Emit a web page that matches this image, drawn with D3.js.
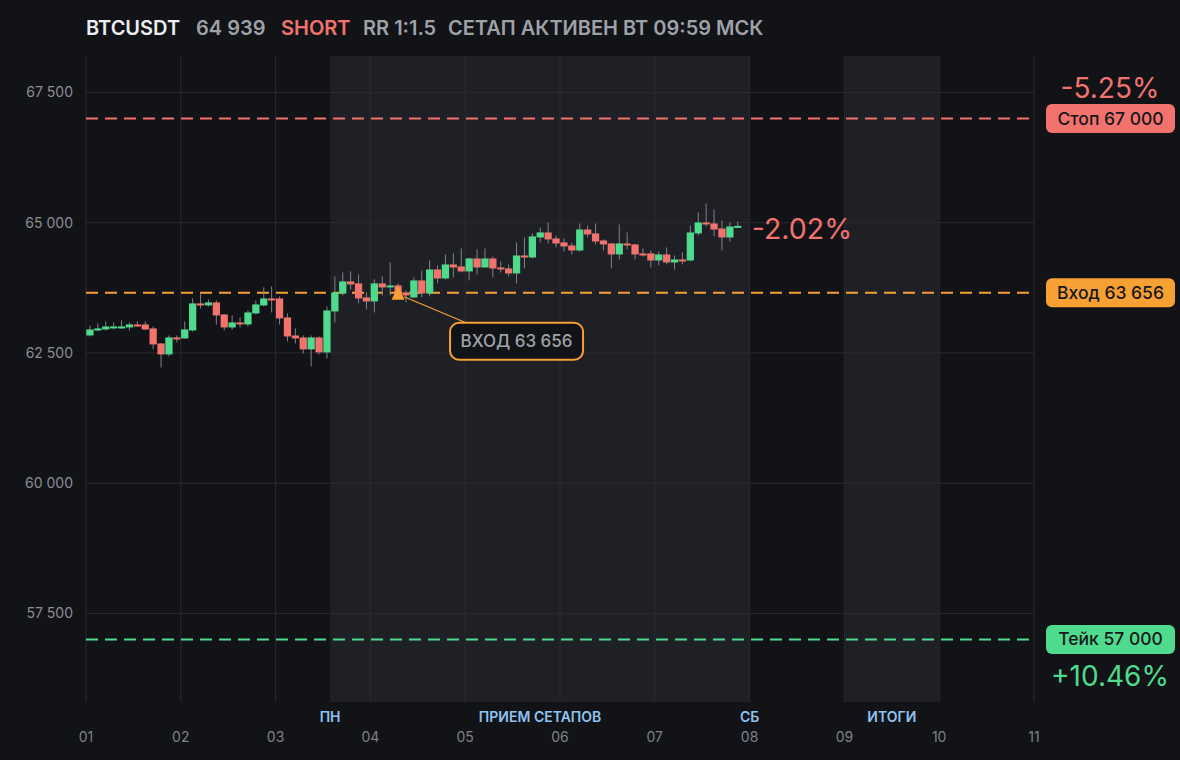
<!DOCTYPE html>
<html>
<head>
    <meta charset="utf-8">
    <script src="https://d3js.org/d3.v7.min.js"></script>
    <style>
        html, body { margin: 0; padding: 0; background: #121317; }
        svg { display: block; }
        text { font-family: Inter, "Noto Sans", sans-serif; }
    </style>
</head>
<body>
<svg id="chart" width="1180" height="760"></svg>
<script>
// ---- data ----
var symbol = "BTCUSDT";
var side = "SHORT";
var rrText = "RR 1:1.5";
var statusText = "СЕТАП АКТИВЕН ВТ 09:59 МСК";

var entryPrice = 63656;
var stopPrice = 67000;
var takePrice = 57000;
var entryCandle = 39;

// 2h candles starting at day 01 00:00
var opens  = [62836,62932,62951,62971,62971,62990,63047,63047,62971,62683,62472,62798,62779,62932,63451,63412,63470,63239,62990,63086,
              63047,63259,63412,63546,63546,63182,62836,62798,62568,62798,62510,63297,63642,63873,63835,63566,63489,63835,63758,63796,
              63661,63566,63892,63642,64103,63930,64199,64160,64065,64314,64141,64314,64141,64122,64026,64371,64333,64717,64813,64698,
              64621,64563,64467,64870,64794,64659,64602,64391,64602,64583,64410,64410,64275,64391,64237,64295,64275,64794,65005,64986,
              64890,64717,64910];
var highs  = [63028,63067,63105,63086,63124,63086,63105,63105,63009,62683,62836,62836,63105,63546,63642,63527,63508,63239,63220,63182,
              63316,63508,63758,63777,63585,63259,62971,62836,62836,62817,63393,63969,64045,64065,64007,63661,63911,63969,64237,63835,
              63700,63949,64084,64275,64180,64391,64410,64506,64333,64487,64506,64352,64256,64199,64621,64717,64794,64909,65005,64755,
              64698,64621,64986,64947,64986,64680,64610,64967,64813,64590,64506,64467,64448,64525,64371,64429,64947,65197,65370,65255,
              65043,65005,65024];
var lows   = [62817,62920,62932,62951,62960,62932,63000,62940,62568,62222,62434,62702,62770,62913,63355,63393,63047,62932,62951,62990,
              63009,63239,63393,63278,63047,62721,62683,62491,62242,62472,62395,63086,63604,63719,63451,63335,63278,63604,63604,63546,
              63470,63546,63566,63585,63835,63911,63949,64045,63892,64007,64141,63949,64045,63969,63835,64122,64314,64621,64602,64525,
              64448,64391,64448,64717,64583,64467,64122,64295,64487,64295,64352,64141,64180,64199,64103,64199,64256,64755,64928,64736,
              64467,64640,64900];
var closes = [62951,62971,63009,63009,63009,63047,63009,62951,62664,62472,62798,62760,62951,63451,63412,63470,63220,62990,63086,63047,
              63278,63431,63546,63508,63163,62817,62779,62568,62798,62510,63316,63661,63873,63815,63546,63489,63835,63758,63796,63661,
              63604,63892,63642,64103,63930,64199,64141,64065,64314,64141,64314,64122,64103,64026,64371,64333,64736,64813,64679,64602,
              64544,64467,64870,64775,64640,64583,64391,64602,64563,64391,64371,64275,64391,64237,64295,64256,64813,65005,64967,64870,
              64717,64928,64939];

var yTicks = [57500, 60000, 62500, 65000, 67500];
var dayTicks = [1, 2, 3, 4, 5, 6, 7, 8, 9, 10, 11];
var dayLabels = ["01", "02", "03", "04", "05", "06", "07", "08", "09", "10", "11"];

var sessionBands = [[3.575, 8], [9, 10]];
var sessionLabels = ["ПН", "ПРИЕМ СЕТАПОВ", "СБ", "ИТОГИ"];
var sessionLabelAt = [3.575, 5.79, 8, 9.5];

// ---- colours ----
var cUp = "#4fdb8d", cDown = "#f2736d", cWick = "#80828a";
var cStop = "#f2736d", cEntry = "#f7a033", cTake = "#4fdb8d";

var svg = d3.select("#chart");
var W = 1180, H = 760;
var plotL = 86, plotR = 1034, plotT = 56, plotB = 702;

var x = d3.scaleLinear().domain([1, 11]).range([plotL, plotR]);
var y = d3.scaleLinear().domain([55800, 68200]).range([plotB, plotT]);
var fmt = function(v){ return d3.format(",")(v).replace(/,/g, " "); };

svg.append("rect").attr("width", W).attr("height", H).attr("fill", "#121317");

// session shading
svg.selectAll("rect.band").data(sessionBands).join("rect").attr("class", "band")
    .attr("x", function(d){ return x(d[0]); })
    .attr("width", function(d){ return x(d[1]) - x(d[0]); })
    .attr("y", plotT).attr("height", plotB - plotT)
    .attr("fill", "#1f2025");

// grid
svg.selectAll("line.vg").data(dayTicks).join("line").attr("class", "vg")
    .attr("x1", function(d){ return x(d); }).attr("x2", function(d){ return x(d); })
    .attr("y1", plotT).attr("y2", plotB)
    .attr("stroke", "#2a2b31").attr("stroke-width", 1);
svg.selectAll("line.hg").data(yTicks).join("line").attr("class", "hg")
    .attr("x1", plotL).attr("x2", plotR)
    .attr("y1", function(d){ return y(d); }).attr("y2", function(d){ return y(d); })
    .attr("stroke", "#2a2b31").attr("stroke-width", 1);

// y labels
svg.selectAll("text.yl").data(yTicks).join("text").attr("class", "yl")
    .attr("x", 73).attr("y", function(d){ return y(d) + 5; })
    .attr("text-anchor", "end").attr("font-size", 14).attr("fill", "#8a8d95")
    .text(fmt);

// x labels
svg.selectAll("text.xl").data(dayTicks).join("text").attr("class", "xl")
    .attr("x", function(d){ return x(d); }).attr("y", 742)
    .attr("text-anchor", "middle").attr("font-size", 14).attr("fill", "#7e8189")
    .text(function(d, i){ return dayLabels[i]; });

svg.selectAll("text.sl").data(sessionLabels).join("text").attr("class", "sl")
    .attr("x", function(d, i){ return x(sessionLabelAt[i]); }).attr("y", 722)
    .attr("text-anchor", "middle").attr("font-size", 14).attr("font-weight", 600)
    .attr("fill", "#8ec4f2")
    .text(function(d){ return d; });

// level lines
var levels = [stopPrice, entryPrice, takePrice];
var levelColors = [cStop, cEntry, cTake];
svg.selectAll("line.lvl").data(levels).join("line").attr("class", "lvl")
    .attr("x1", plotL).attr("x2", 1032)
    .attr("y1", function(d){ return y(d); }).attr("y2", function(d){ return y(d); })
    .attr("stroke", function(d, i){ return levelColors[i]; })
    .attr("stroke-width", 2).attr("stroke-dasharray", "12,7");

// candles
var step = (x(2) - x(1)) / 12;
var candles = d3.range(opens.length);
var cx = function(i){ return x(1 + (i + 0.5) / 12); };
var g = svg.append("g");
g.selectAll("line.wick").data(candles).join("line").attr("class", "wick")
    .attr("x1", cx).attr("x2", cx)
    .attr("y1", function(i){ return y(highs[i]); })
    .attr("y2", function(i){ return y(lows[i]); })
    .attr("stroke", cWick).attr("stroke-width", 1);
g.selectAll("rect.body").data(candles).join("rect").attr("class", "body")
    .attr("x", function(i){ return cx(i) - step * 0.46; })
    .attr("width", step * 0.92)
    .attr("y", function(i){ return y(Math.max(opens[i], closes[i])); })
    .attr("height", function(i){ return Math.max(2, Math.abs(y(opens[i]) - y(closes[i]))); })
    .attr("fill", function(i){ return closes[i] >= opens[i] ? cUp : cDown; });

// entry marker + callout
var mx = cx(entryCandle), my = y(entryPrice);
svg.append("line")
    .attr("x1", mx + 6).attr("y1", my + 4)
    .attr("x2", mx + 68).attr("y2", my + 30)
    .attr("stroke", cEntry).attr("stroke-width", 1.2);
svg.append("path")
    .attr("d", "M" + mx + "," + (my - 7) + "L" + (mx + 6.5) + "," + (my + 7) + "L" + (mx - 6.5) + "," + (my + 7) + "Z")
    .attr("fill", cEntry);
svg.append("rect")
    .attr("x", mx + 52).attr("y", my + 30).attr("width", 133).attr("height", 37).attr("rx", 9)
    .attr("fill", "#121317").attr("stroke", cEntry).attr("stroke-width", 2);
svg.append("text")
    .attr("x", mx + 52 + 66.5).attr("y", my + 30 + 24.5)
    .attr("text-anchor", "middle").attr("font-size", 17).attr("font-weight", 500)
    .attr("fill", "#a0a3aa")
    .text("ВХОД " + fmt(entryPrice));

// current pnl next to last candle
var last = closes[closes.length - 1];
var pct = function(p){ return (entryPrice - p) / entryPrice * 100; };
var pctStr = function(v){ return (v > 0 ? "+" : "-") + Math.abs(v).toFixed(2) + "%"; };
svg.append("text")
    .attr("x", cx(closes.length - 1) + 14).attr("y", y(last) + 13)
    .attr("font-family", "DejaVu Sans").attr("font-size", 28.5)
    .attr("fill", cDown)
    .text(pctStr(pct(last)));

// right side tags
var tagNames = ["Стоп", "Вход", "Тейк"];
var tags = svg.selectAll("g.tag").data(levels).join("g").attr("class", "tag")
    .attr("transform", function(d){ return "translate(1046," + (y(d) - 14.5) + ")"; });
tags.append("rect").attr("width", 129).attr("height", 29).attr("rx", 6)
    .attr("fill", function(d, i){ return levelColors[i]; });
tags.append("text").attr("x", 64.5).attr("y", 20.5).attr("text-anchor", "middle")
    .attr("font-size", 17.5).attr("font-weight", 500).attr("fill", "#16171b")
    .text(function(d, i){ return tagNames[i] + " " + fmt(d); });

svg.append("text")
    .attr("x", 1110).attr("y", y(stopPrice) - 21).attr("text-anchor", "middle")
    .attr("font-family", "DejaVu Sans").attr("font-size", 28).attr("fill", cStop)
    .text(pctStr(pct(stopPrice)));
svg.append("text")
    .attr("x", 1110).attr("y", y(takePrice) + 47).attr("text-anchor", "middle")
    .attr("font-family", "DejaVu Sans").attr("font-size", 28).attr("fill", cTake)
    .text(pctStr(pct(takePrice)));

// header
var header = [symbol, fmt(last), side, rrText, statusText];
var headerX = [86, 196, 281, 363, 448];
var headerColor = ["#eceef2", "#9ea1a8", "#f2736d", "#9ea1a8", "#9ea1a8"];
svg.selectAll("text.hd").data(header).join("text").attr("class", "hd")
    .attr("x", function(d, i){ return headerX[i]; }).attr("y", 35)
    .attr("font-size", 20).attr("font-weight", 600)
    .attr("fill", function(d, i){ return headerColor[i]; })
    .text(function(d){ return d; });
</script>
</body>
</html>
